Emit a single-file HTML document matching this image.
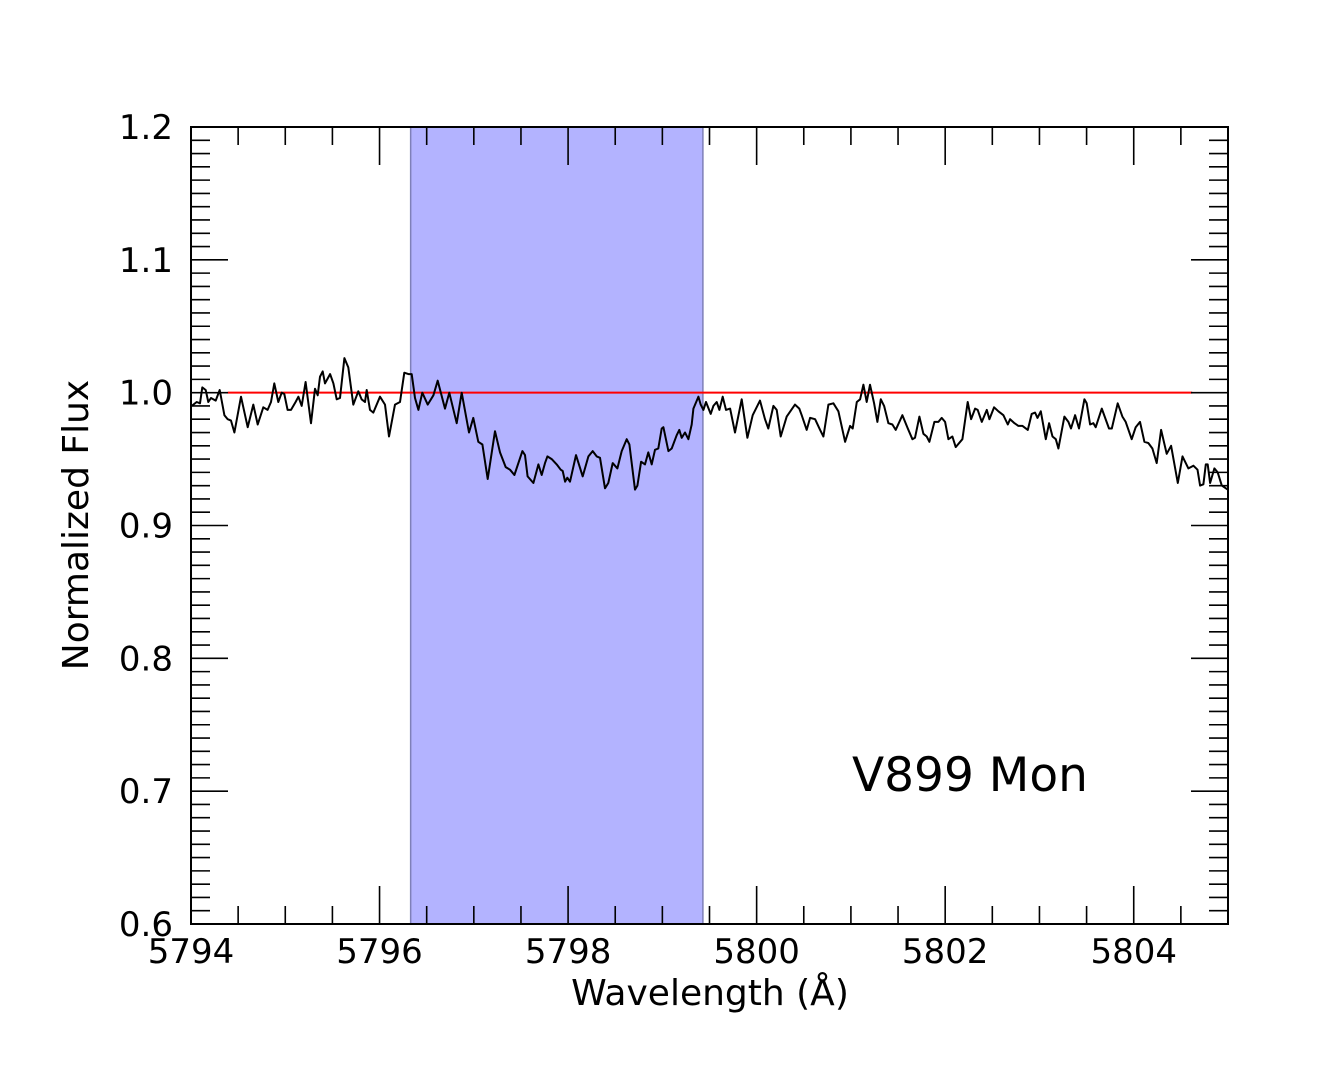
<!DOCTYPE html>
<html><head><meta charset="utf-8"><style>
body{margin:0;background:#fff;}
svg text{font-family:"DejaVu Sans","Liberation Sans",sans-serif;fill:#000;}
</style></head><body>
<svg id="chart" width="1333" height="1066" xmlns="http://www.w3.org/2000/svg">
<g id="plot"></g>
</svg>
<script>
const wavelengths=[5794.007,5794.060,5794.095,5794.120,5794.156,5794.184,5794.212,5794.262,5794.304,5794.354,5794.389,5794.424,5794.460,5794.530,5794.601,5794.661,5794.707,5794.767,5794.813,5794.849,5794.884,5794.926,5794.962,5794.990,5795.025,5795.061,5795.110,5795.139,5795.174,5795.216,5795.273,5795.315,5795.344,5795.368,5795.397,5795.421,5795.475,5795.510,5795.545,5795.581,5795.627,5795.669,5795.722,5795.775,5795.810,5795.846,5795.864,5795.899,5795.934,5796.005,5796.058,5796.100,5796.164,5796.217,5796.263,5796.306,5796.341,5796.376,5796.412,5796.454,5796.511,5796.571,5796.617,5796.694,5796.740,5796.818,5796.871,5796.949,5796.995,5797.048,5797.091,5797.147,5797.225,5797.278,5797.338,5797.384,5797.430,5797.515,5797.543,5797.571,5797.632,5797.685,5797.720,5797.755,
5797.780,5797.826,5797.879,5797.922,5797.943,5797.968,5797.992,5798.020,5798.084,5798.155,5798.215,5798.261,5798.303,5798.339,5798.392,5798.427,5798.473,5798.523,5798.569,5798.622,5798.650,5798.710,5798.735,5798.774,5798.816,5798.851,5798.887,5798.922,5798.957,5798.993,5799.011,5799.064,5799.099,5799.152,5799.180,5799.205,5799.240,5799.276,5799.311,5799.329,5799.382,5799.407,5799.435,5799.463,5799.513,5799.541,5799.576,5799.605,5799.640,5799.675,5799.718,5799.771,5799.842,5799.902,5799.958,5800.036,5800.089,5800.124,5800.178,5800.213,5800.255,5800.319,5800.407,5800.453,5800.478,5800.531,5800.567,5800.620,5800.673,5800.708,5800.761,5800.814,5800.867,5800.938,5800.991,5801.019,5801.062,5801.097,5801.132,5801.168,5801.203,5801.246,5801.281,5801.317,5801.352,5801.398,
5801.440,5801.475,5801.546,5801.603,5801.652,5801.680,5801.726,5801.769,5801.804,5801.833,5801.886,5801.928,5801.963,5801.999,5802.034,5802.077,5802.112,5802.183,5802.239,5802.275,5802.317,5802.345,5802.388,5802.441,5802.469,5802.519,5802.565,5802.618,5802.664,5802.689,5802.735,5802.777,5802.820,5802.876,5802.918,5802.954,5802.979,5803.014,5803.067,5803.102,5803.138,5803.173,5803.201,5803.265,5803.307,5803.335,5803.378,5803.420,5803.477,5803.501,5803.537,5803.572,5803.597,5803.661,5803.738,5803.767,5803.830,5803.880,5803.915,5803.979,5804.021,5804.067,5804.113,5804.156,5804.198,5804.244,5804.290,5804.350,5804.396,5804.467,5804.517,5804.580,5804.633,5804.676,5804.704,5804.739,5804.764,5804.785,5804.810,5804.856,5804.891,5804.934,5804.997];
const fluxes=[0.990,0.993,0.992,1.004,1.002,0.993,0.996,0.994,1.002,0.983,0.980,0.979,0.970,0.997,0.974,0.991,0.976,0.989,0.987,0.993,1.007,0.993,1.000,0.999,0.987,0.987,0.993,0.997,0.990,1.008,0.977,1.003,0.998,1.012,1.016,1.007,1.014,1.007,0.995,0.996,1.026,1.019,0.991,1.001,0.995,0.993,1.002,0.987,0.985,0.997,0.991,0.967,0.991,0.993,1.015,1.014,1.014,0.996,0.987,1.000,0.991,0.998,1.009,0.988,1.000,0.977,1.000,0.970,0.981,0.963,0.961,0.935,0.971,0.955,0.944,0.942,0.938,0.956,0.953,0.937,0.932,0.946,0.938,0.947,
0.952,0.950,0.946,0.942,0.941,0.933,0.936,0.933,0.953,0.937,0.952,0.956,0.952,0.951,0.928,0.932,0.947,0.943,0.956,0.965,0.961,0.927,0.930,0.948,0.946,0.955,0.946,0.957,0.958,0.973,0.974,0.956,0.958,0.968,0.972,0.966,0.970,0.965,0.976,0.988,0.997,0.991,0.987,0.993,0.984,0.990,0.993,0.987,0.997,0.987,0.988,0.970,0.995,0.966,0.983,0.994,0.980,0.973,0.990,0.987,0.967,0.982,0.991,0.988,0.983,0.972,0.981,0.980,0.972,0.967,0.991,0.992,0.986,0.963,0.975,0.973,0.993,0.995,1.006,0.993,1.006,0.992,0.978,0.995,0.990,0.977,
0.976,0.972,0.983,0.973,0.965,0.966,0.982,0.969,0.967,0.963,0.978,0.978,0.981,0.978,0.965,0.967,0.959,0.965,0.993,0.980,0.988,0.987,0.978,0.987,0.980,0.989,0.986,0.983,0.976,0.980,0.977,0.975,0.975,0.972,0.984,0.985,0.981,0.986,0.965,0.977,0.967,0.965,0.958,0.982,0.978,0.973,0.983,0.973,0.995,0.992,0.976,0.977,0.974,0.988,0.973,0.973,0.992,0.982,0.978,0.965,0.974,0.978,0.963,0.962,0.958,0.947,0.972,0.954,0.960,0.932,0.952,0.943,0.945,0.942,0.930,0.931,0.946,0.946,0.932,0.943,0.940,0.930,0.927];
const xRange=[5794,5805];
const yRange=[0.6,1.2];
const xTickLabels=["5794","5796","5798","5800","5802","5804"];
const yTickLabels=["0.6","0.7","0.8","0.9","1.0","1.1","1.2"];
const bandRange=[5796.33,5799.43];
const continuum=[5794.39,5804.62,1.0];

const L=191,R=1228,T=127,B=924;
const sx=v=>L+(v-xRange[0])/(xRange[1]-xRange[0])*(R-L);
const sy=v=>B-(v-yRange[0])/(yRange[1]-yRange[0])*(B-T);
const NS="http://www.w3.org/2000/svg";
const g=document.getElementById('plot');
function mk(tag,attrs,parent){const e=document.createElementNS(NS,tag);for(const k in attrs)e.setAttribute(k,attrs[k]);(parent||g).appendChild(e);return e;}

const band=mk('rect',{x:sx(bandRange[0]),y:T,width:sx(bandRange[1])-sx(bandRange[0]),height:B-T,fill:'#b3b3ff',stroke:'#7f80b8','stroke-width':1.5});



const cl=mk('line',{x1:sx(continuum[0]),x2:sx(continuum[1]),y1:sy(continuum[2]),y2:sy(continuum[2]),stroke:'#ff0000','stroke-width':2});



let d='';
for(let i=0;i<wavelengths.length;i++){d+=(i?'L':'M')+sx(wavelengths[i]).toFixed(1)+','+sy(fluxes[i]).toFixed(1);}
const sp=mk('path',{d:d,fill:'none',stroke:'#000','stroke-width':2,'stroke-linejoin':'round'});



const tg=mk('g',{stroke:'#000','stroke-width':1.6});


for(let k=0;k<=22;k++){const v=xRange[0]+k*0.5;const x=sx(v);const len=(k%4===0)?38:18;
 mk('line',{x1:x,x2:x,y1:B,y2:B-len},tg);mk('line',{x1:x,x2:x,y1:T,y2:T+len},tg);}
for(let k=0;k<=60;k++){const v=yRange[0]+k*0.01;const y=sy(v);const len=(k%10===0)?37:19;
 mk('line',{x1:L,x2:L+len,y1:y,y2:y},tg);mk('line',{x1:R,x2:R-len,y1:y,y2:y},tg);}

const fr=mk('rect',{x:L,y:T,width:R-L,height:B-T,fill:'none',stroke:'#000','stroke-width':2});



xTickLabels.forEach(s=>{const t=mk('text',{x:sx(+s),y:963,'text-anchor':'middle','font-size':34});t.textContent=s;
 
 });
yTickLabels.forEach(s=>{const t=mk('text',{x:173,y:sy(+s)+12,'text-anchor':'end','font-size':34});t.textContent=s;
 
 });

const xt=mk('text',{x:710,y:1005,'text-anchor':'middle','font-size':36});xt.textContent='Wavelength (Å)';


const yt=mk('text',{x:0,y:0,'text-anchor':'middle','font-size':36,transform:'translate(88,525) rotate(-90)'});yt.textContent='Normalized Flux';


const st=mk('text',{x:852,y:791,'font-size':47});st.textContent='V899 Mon';


</script>
</body></html>
